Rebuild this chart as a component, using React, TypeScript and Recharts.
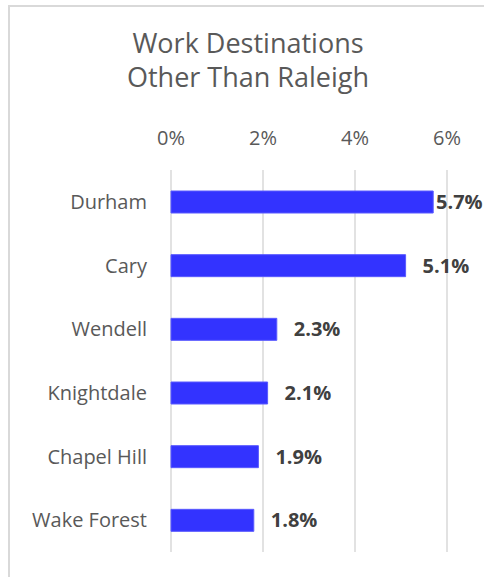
import { BarChart, Bar, XAxis, YAxis, CartesianGrid, LabelList } from "recharts";

const cities = ["Durham", "Cary", "Wendell", "Knightdale", "Chapel Hill", "Wake Forest"];
const shares = [5.7, 5.1, 2.3, 2.1, 1.9, 1.8];
const pctTicks = [0, 2, 4, 6];

const data = cities.map((city, i) => ({ city, share: shares[i] }));

const FONT = '"Open Sans", sans-serif';

function ValueLabel(props: any) {
  const { x, y, width, height, value } = props;
  const end = Number(x) + Number(width);
  // keep the label inside the frame, as Excel does for the longest bar
  const tx = Math.min(end + 17, 436);
  return (
    <text
      x={tx}
      y={Number(y) + Number(height) / 2 + 7}
      fill="#404040"
      fontSize={20}
      fontWeight="bold"
      fontFamily={FONT}
    >
      {`${value.toFixed(1)}%`}
    </text>
  );
}

export default function App() {
  return (
    <div
      style={{
        position: "absolute",
        left: 0,
        top: 0,
        width: 484,
        height: 577,
        overflow: "hidden",
        background: "#fff",
        fontFamily: FONT,
      }}
    >
      <div
        style={{
          position: "absolute",
          left: 8,
          top: 5,
          width: 600,
          height: 700,
          borderTop: "2px solid #d9d9d9",
          borderLeft: "2px solid #d9d9d9",
        }}
      />
      <div
        style={{
          position: "absolute",
          left: 0,
          width: 496,
          top: 26,
          textAlign: "center",
          color: "#595959",
          fontSize: 27,
          lineHeight: "34px",
        }}
      >
        Work Destinations
        <br />
        Other Than Raleigh
      </div>
      <div style={{ position: "absolute", left: 0, top: 0 }}>
        <BarChart
          width={484}
          height={577}
          data={data}
          layout="vertical"
          margin={{ top: 130, right: 37, bottom: 25, left: 0 }}
        >
          <CartesianGrid horizontal={false} stroke="#d9d9d9" strokeWidth={1.5} />
          <XAxis
            type="number"
            orientation="top"
            domain={[0, 6]}
            ticks={pctTicks}
            height={40}
            axisLine={false}
            tickLine={false}
            tickMargin={19}
            tickFormatter={(v: number) => `${v}%`}
            tick={{ fill: "#595959", fontSize: 20, fontFamily: FONT }}
          />
          <YAxis
            type="category"
            dataKey="city"
            width={171}
            axisLine={false}
            tickLine={false}
            tickMargin={18}
            tick={{ fill: "#595959", fontSize: 20, fontFamily: FONT }}
          />
          <Bar dataKey="share" fill="#3333ff" stroke="#5a5aff" strokeWidth={1} barSize={22} isAnimationActive={false}>
            <LabelList dataKey="share" content={ValueLabel} />
          </Bar>
        </BarChart>
      </div>
    </div>
  );
}
